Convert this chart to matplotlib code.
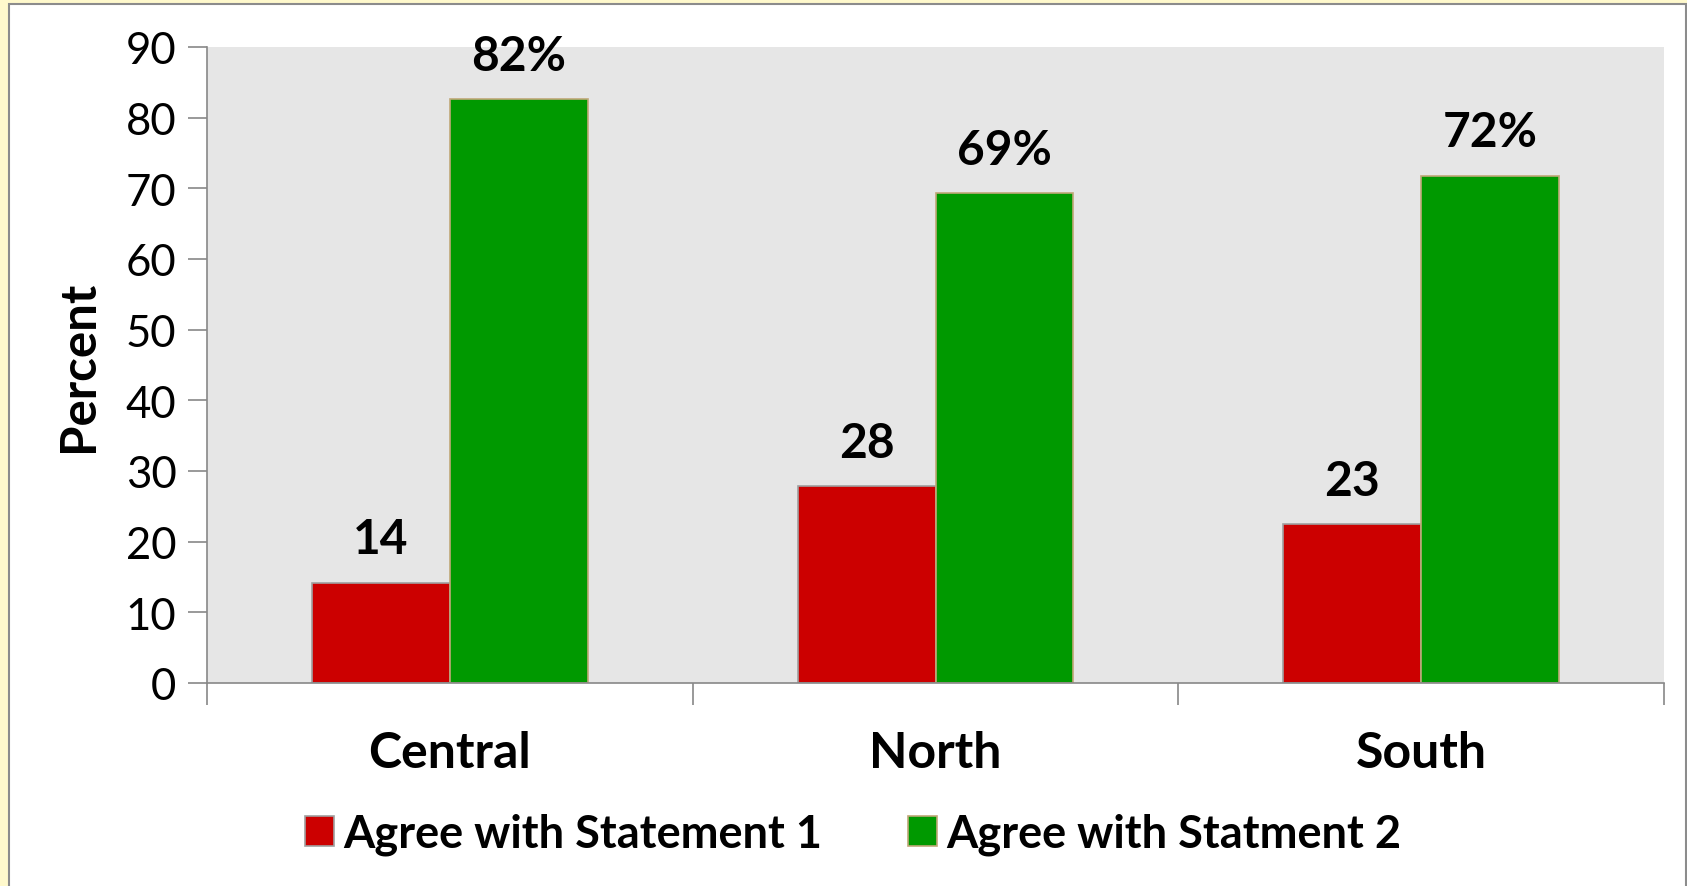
import matplotlib.pyplot as plt
import numpy as np
from matplotlib.patches import Rectangle

regions = ["Central", "North", "South"]
statement1 = [14.2, 27.9, 22.5]
statement2 = [82.6, 69.3, 71.8]
labels1 = ["14", "28", "23"]
labels2 = ["82%", "69%", "72%"]
series_names = ["Agree with Statement 1", "Agree with Statment 2"]
yticks = [0, 10, 20, 30, 40, 50, 60, 70, 80, 90]

plt.rcParams['font.family'] = ['Lato', 'DejaVu Sans']

W, H = 1694, 887
fig = plt.figure(figsize=(W / 100, H / 100), dpi=100)
fig.patch.set_facecolor('white')

# yellow frame around the chart, like the screenshot
fig.patches.append(Rectangle((0, 0), 1, 1, transform=fig.transFigure,
                             facecolor='#fff9cc', edgecolor='none', zorder=-3))
fig.patches.append(Rectangle((9 / W, -0.01), (1686 - 9) / W, (H - 5) / H + 0.01,
                             transform=fig.transFigure, facecolor='white',
                             edgecolor='#8c8c8c', lw=1.5, zorder=-2))
fig.patches.append(Rectangle((1687 / W, 0), 1, 1, transform=fig.transFigure,
                             facecolor='white', edgecolor='none', zorder=-2))

ax = fig.add_axes([207 / W, 1 - 684 / H, (1664 - 207) / W, (684 - 48) / H])
ax.set_facecolor('#e6e6e6')

x = np.arange(len(regions))
w = 0.284
b1 = ax.bar(x - w / 2, statement1, w, color='#cc0000', edgecolor='#a0a0a0',
            lw=1.2, label=series_names[0])
b2 = ax.bar(x + w / 2, statement2, w, color='#009900', edgecolor='#c0a878',
            lw=1.2, label=series_names[1])

for rect, lab in zip(b1, labels1):
    ax.text(rect.get_x() + rect.get_width() / 2, rect.get_height() + 3.0, lab,
            ha='center', va='bottom', fontsize=34.5, fontweight='bold')
for rect, lab in zip(b2, labels2):
    ax.text(rect.get_x() + rect.get_width() / 2, rect.get_height() + 3.0, lab,
            ha='center', va='bottom', fontsize=34.5, fontweight='bold')

ax.set_xlim(-0.5, len(regions) - 0.5)
ax.set_ylim(0, 90)
ax.set_yticks(yticks)
ax.tick_params(axis='y', labelsize=31.5, length=14, width=1.2, color='#888888', pad=8)
ax.set_xticks(np.arange(len(regions) + 1) - 0.5)
ax.set_xticklabels([])
ax.tick_params(axis='x', length=16, width=1.2, color='#888888')
for xi, r in zip(x, regions):
    ax.text(xi, -9.8, r, ha='center', va='center', fontsize=36, fontweight='bold')

ax.set_ylabel('Percent', fontsize=35.5, fontweight='bold', labelpad=18)

for s in ['top', 'right']:
    ax.spines[s].set_visible(False)
for s in ['left', 'bottom']:
    ax.spines[s].set_color('#888888')
    ax.spines[s].set_linewidth(1.2)

fig.legend(handles=[b1, b2], loc='center', bbox_to_anchor=(853 / W, 1 - 835 / H),
           ncol=2, frameon=False, prop={'weight': 'bold', 'size': 32.5},
           handlelength=0.65, handleheight=0.65, handletextpad=0.2, columnspacing=1.9)

fig.savefig('out.png', dpi=100)
